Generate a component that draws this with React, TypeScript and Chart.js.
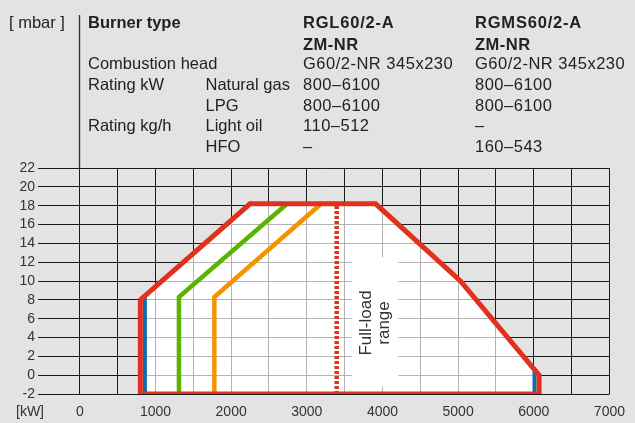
import React, { useEffect, useRef } from 'react';
import { Chart, registerables } from 'chart.js';

Chart.register(...registerables);

// ---------- data ----------
const envelopeKW = [3000, 800, 800, 2250, 3910, 5030, 6070, 6070, 3000];
const envelopeMbar = [-2, -2, 8, 18.2, 18.2, 10, 0, -2, -2];

const blueLeftKW = [860, 860];
const blueLeftMbar = [-2, 8.2];
const blueRightKW = [6010, 6010];
const blueRightMbar = [-2, 0.6];

const greenKW = [1310, 1310, 2740];
const greenMbar = [-2, 8.3, 18.2];

const orangeKW = [1778, 1778, 3190];
const orangeMbar = [-2, 8.3, 18.2];

const fullLoadKW = [3395, 3395];
const fullLoadMbar = [-2, 18.2];

const yMin = -2;
const yMax = 22;
const yStep = 2;
const xMin = -500;
const xMax = 7000;
const xStep = 500;
const xLabelStep = 1000;
const xUnitLabel = '[kW]';
const yUnitLabel = '[ mbar ]';
const fullLoadText = ['Full-load', 'range'];

const headerLabel = 'Burner type';
const modelCol1 = ['RGL60/2-A', 'ZM-NR'];
const modelCol2 = ['RGMS60/2-A', 'ZM-NR'];
const rowLabels = ['Combustion head', 'Rating kW', '', 'Rating kg/h', ''];
const rowSubLabels = ['', 'Natural gas', 'LPG', 'Light oil', 'HFO'];
const col1Values = ['G60/2-NR 345x230', '800–6100', '800–6100', '110–512', '–'];
const col2Values = ['G60/2-NR 345x230', '800–6100', '800–6100', '–', '160–543'];

// ---------- style ----------
const FONT = '"Liberation Sans", Arial, Helvetica, sans-serif';
const RED = '#e0301e';
const GREEN = '#58b400';
const ORANGE = '#f49200';
const BLUE = '#0b6db3';
const BG = '#e3e3e3';
const TEXT = '#222222';

const pts = (xs: number[], ys: number[]) => xs.map((x, i) => ({ x, y: ys[i] }));

const alignPx = (p: number) => Math.round(p - 0.5) + 0.5;

const envelopePlugin = {
  id: 'envelopePlugin',
  beforeDatasetsDraw(chart: any) {
    const { ctx } = chart;
    const xs = chart.scales.x;
    const ys = chart.scales.y;
    ctx.save();
    ctx.beginPath();
    envelopeKW.forEach((v, i) => {
      const px = xs.getPixelForValue(v);
      const py = ys.getPixelForValue(envelopeMbar[i]);
      if (i === 0) ctx.moveTo(px, py);
      else ctx.lineTo(px, py);
    });
    ctx.closePath();
    ctx.fillStyle = '#ffffff';
    ctx.fill();
    ctx.clip();
    ctx.strokeStyle = '#b4b4b4';
    ctx.lineWidth = 1;
    ctx.beginPath();
    xs.ticks.forEach((t: any) => {
      if (t.value < 0) return;
      const px = alignPx(xs.getPixelForValue(t.value));
      ctx.moveTo(px, ys.top);
      ctx.lineTo(px, ys.bottom);
    });
    ys.ticks.forEach((t: any) => {
      const py = alignPx(ys.getPixelForValue(t.value));
      ctx.moveTo(xs.left, py);
      ctx.lineTo(xs.right, py);
    });
    ctx.stroke();
    ctx.restore();

    const bx0 = xs.getPixelForValue(3600);
    const bx1 = xs.getPixelForValue(4210);
    const by0 = ys.getPixelForValue(12.5);
    const by1 = ys.getPixelForValue(-1.2);
    ctx.save();
    ctx.fillStyle = '#ffffff';
    ctx.fillRect(bx0, by0, bx1 - bx0, by1 - by0);
    ctx.translate((bx0 + bx1) / 2, (by0 + by1) / 2 + 1);
    ctx.rotate(-Math.PI / 2);
    ctx.fillStyle = '#333333';
    ctx.font = `17px ${FONT}`;
    ctx.textAlign = 'center';
    ctx.textBaseline = 'middle';
    ctx.fillText(fullLoadText[0], 0, -8.8);
    ctx.fillText(fullLoadText[1], 0, 8.8);
    ctx.restore();
  },
  afterDraw(chart: any) {
    const { ctx } = chart;
    const xs = chart.scales.x;
    const ys = chart.scales.y;
    ctx.save();
    const px = alignPx(xs.getPixelForValue(0));
    ctx.strokeStyle = '#333333';
    ctx.lineWidth = 1.4;
    ctx.beginPath();
    ctx.moveTo(px, 15);
    ctx.lineTo(px, ys.top);
    ctx.stroke();
    ctx.fillStyle = '#333333';
    ctx.font = `14px ${FONT}`;
    ctx.textAlign = 'center';
    ctx.textBaseline = 'middle';
    ctx.fillText(xUnitLabel, 30, ys.bottom + 18);
    ctx.restore();
  },
};

const T = ({
  x,
  b,
  text,
  bold,
  fs = 16.5,
  ls = 0,
}: {
  x: number;
  b: number;
  text: string;
  bold?: boolean;
  fs?: number;
  ls?: number;
}) => (
  <span
    style={{
      position: 'absolute',
      left: x,
      top: b - 0.8465 * fs,
      fontSize: fs,
      lineHeight: `${fs}px`,
      fontFamily: FONT,
      fontWeight: bold ? 700 : 400,
      letterSpacing: ls,
      color: TEXT,
      whiteSpace: 'nowrap',
    }}
  >
    {text}
  </span>
);

export default function App() {
  const ref = useRef<HTMLCanvasElement | null>(null);

  useEffect(() => {
    if (!ref.current) return;
    const chart = new Chart(ref.current, {
      type: 'scatter',
      data: {
        datasets: [
          {
            data: pts(envelopeKW, envelopeMbar),
            showLine: true,
            borderColor: RED,
            borderWidth: 5,
            borderJoinStyle: 'miter',
            pointRadius: 0,
            fill: false,
          },
          {
            data: pts(fullLoadKW, fullLoadMbar),
            showLine: true,
            borderColor: RED,
            borderWidth: 4.5,
            borderDash: [3, 2],
            borderCapStyle: 'butt',
            pointRadius: 0,
          },
          {
            data: pts(blueLeftKW, blueLeftMbar),
            showLine: true,
            borderColor: BLUE,
            borderWidth: 4,
            pointRadius: 0,
          },
          {
            data: pts(blueRightKW, blueRightMbar),
            showLine: true,
            borderColor: BLUE,
            borderWidth: 4,
            pointRadius: 0,
          },
          {
            data: pts(greenKW, greenMbar),
            showLine: true,
            borderColor: GREEN,
            borderWidth: 4.5,
            borderJoinStyle: 'miter',
            pointRadius: 0,
          },
          {
            data: pts(orangeKW, orangeMbar),
            showLine: true,
            borderColor: ORANGE,
            borderWidth: 4.5,
            borderJoinStyle: 'miter',
            pointRadius: 0,
          },
        ],
      },
      options: {
        responsive: false,
        animation: false,
        devicePixelRatio: 1,
        layout: { padding: { top: 168, right: 18, bottom: 0, left: 0 } },
        plugins: {
          legend: { display: false },
          tooltip: { enabled: false },
        },
        scales: {
          x: {
            type: 'linear',
            min: xMin,
            max: xMax,
            border: { display: false },
            grid: {
              color: (c: any) => (c.tick && c.tick.value < 0 ? 'rgba(0,0,0,0)' : '#1a1a1a'),
              lineWidth: 1,
              drawTicks: false,
            },
            ticks: {
              stepSize: xStep,
              autoSkip: false,
              maxRotation: 0,
              padding: 10,
              color: '#333333',
              font: { family: FONT, size: 14 },
              callback: (v: any) => (Number(v) >= 0 && Number(v) % xLabelStep === 0 ? String(v) : ''),
            },
            afterFit: (s: any) => {
              s.height = 29;
            },
          },
          y: {
            type: 'linear',
            min: yMin,
            max: yMax,
            border: { display: false },
            grid: {
              color: '#1a1a1a',
              lineWidth: 1,
              drawTicks: true,
              tickLength: 4,
            },
            ticks: {
              stepSize: yStep,
              autoSkip: false,
              padding: 3,
              color: '#333333',
              font: { family: FONT, size: 14 },
            },
            afterFit: (s: any) => {
              s.width = 42;
            },
          },
        },
      },
      plugins: [envelopePlugin],
    } as any);
    return () => chart.destroy();
  }, []);

  const rowBase = [69, 90, 110.7, 131, 151.7];

  return (
    <div
      style={{
        position: 'fixed',
        left: 0,
        top: 0,
        width: 635,
        height: 423,
        background: BG,
        overflow: 'hidden',
      }}
    >
      <canvas ref={ref} width={635} height={423} style={{ position: 'absolute', left: 0, top: 0 }} />
      <T x={9} b={28.3} text={yUnitLabel} />
      <T x={88} b={28.3} text={headerLabel} bold />
      <T x={303} b={28.3} text={modelCol1[0]} bold ls={0.8} />
      <T x={303} b={50} text={modelCol1[1]} bold ls={0.5} />
      <T x={475} b={28.3} text={modelCol2[0]} bold ls={0.8} />
      <T x={475} b={50} text={modelCol2[1]} bold ls={0.5} />
      {rowLabels.map((t, i) => (t ? <T key={'l' + i} x={88} b={rowBase[i]} text={t} /> : null))}
      {rowSubLabels.map((t, i) => (t ? <T key={'s' + i} x={205.5} b={rowBase[i]} text={t} /> : null))}
      {col1Values.map((t, i) => (
        <T key={'a' + i} x={303} b={rowBase[i]} text={t} ls={0.5} />
      ))}
      {col2Values.map((t, i) => (
        <T key={'b' + i} x={475} b={rowBase[i]} text={t} ls={0.5} />
      ))}
    </div>
  );
}
